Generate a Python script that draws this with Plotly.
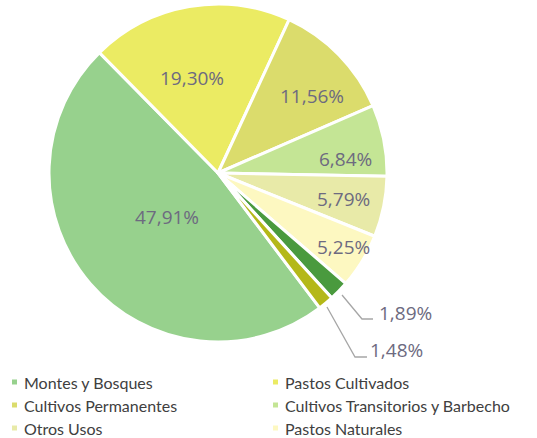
import math
import plotly.graph_objects as go

# ---------------------------------------------------------------- data
labels = ["Montes y Bosques", "Pastos Cultivados", "Cultivos Permanentes",
          "Cultivos Transitorios y Barbecho", "Otros Usos", "Pastos Naturales",
          "Páramos", "Descanso"]
shares = [47.91, 19.30, 11.56, 6.84, 5.79, 5.25, 1.89, 1.48]
colors = ["#97d18d", "#ebeb63", "#dbdc6c", "#c4e595", "#e8eaa8", "#fdf8c1",
          "#4a9a3e", "#b4b818"]
# inside-label placement: fraction of radius, angle nudge (deg) from slice middle
label_r = [0.40, 0.58, 0.72, 0.76, 0.76, 0.86]
label_da = [0, -5.5, 5, 5, 0, -1]

W, H = 537, 438
LBL = "#6d6a80"
LBL_FONT = dict(family="Open Sans", size=19, color=LBL)
ROT = 143


def px(x, y):
    """pixel -> paper coords"""
    return x / W, 1 - y / H


def fmt(v):
    return f"{v:.2f}%".replace(".", ",")


# ---------------------------------------------------------------- pie
cx, cy, r = 218, 173, 169
fig = go.Figure(go.Pie(
    labels=labels, values=shares, sort=False, direction="clockwise",
    rotation=ROT,
    marker=dict(colors=colors, line=dict(color="white", width=3)),
    textinfo="none",
    domain=dict(x=[(cx - r) / W, (cx + r) / W],
                y=[1 - (cy + r) / H, 1 - (cy - r) / H]),
    showlegend=False, hoverinfo="label+percent",
))

shapes, annos = [], []

# ---------------------------------------------------------------- inside labels
tot = sum(shares)
start = ROT
for i, fr in enumerate(label_r):
    mid = math.radians(start + shares[i] / tot * 180 + label_da[i])
    start += shares[i] / tot * 360
    ax, ay = px(cx + fr * r * math.sin(mid), cy - fr * r * math.cos(mid))
    annos.append(dict(x=ax, y=ay, xref="paper", yref="paper", showarrow=False,
                      xanchor="center", yanchor="middle", text=fmt(shares[i]),
                      font=LBL_FONT))

# ---------------------------------------------------------------- outside labels + leaders
leaders = [
    (6, [(342, 295), (362, 319), (373, 319)], (377, 313)),
    (7, [(327, 307), (355, 357), (367, 357)], (368, 350)),
]
for i, pts, (tx, ty) in leaders:
    path = "M " + " L ".join(f"{px(x, y)[0]:.4f},{px(x, y)[1]:.4f}" for x, y in pts)
    shapes.append(dict(type="path", path=path, xref="paper", yref="paper",
                       line=dict(color="#a6a6a6", width=1.3)))
    ax, ay = px(tx, ty)
    annos.append(dict(x=ax, y=ay, xref="paper", yref="paper", showarrow=False,
                      xanchor="left", yanchor="middle", text=fmt(shares[i]),
                      font=LBL_FONT))

# ---------------------------------------------------------------- legend (2 cols, last row cut off)
for k in range(6):
    col, row = k % 2, k // 2
    mx = 12 if col == 0 else 273
    my = 382 + row * 23
    x0, y0 = px(mx, my - 2.5)
    x1, y1 = px(mx + 5, my + 2.5)
    shapes.append(dict(type="rect", xref="paper", yref="paper",
                       x0=x0, x1=x1, y0=y1, y1=y0,
                       fillcolor=colors[k], line=dict(width=0)))
    ax, ay = px(mx + 10, my)
    annos.append(dict(x=ax, y=ay, xref="paper", yref="paper", showarrow=False,
                      xanchor="left", yanchor="middle", text=labels[k],
                      font=dict(family="Lato", size=16, color="#404040")))

fig.update_layout(
    width=W, height=H, margin=dict(l=0, r=0, t=0, b=0),
    paper_bgcolor="white", plot_bgcolor="white",
    shapes=shapes, annotations=annos,
)

fig.write_html("out.html", config={"displayModeBar": False},
               post_script="document.body.style.margin='0';")
